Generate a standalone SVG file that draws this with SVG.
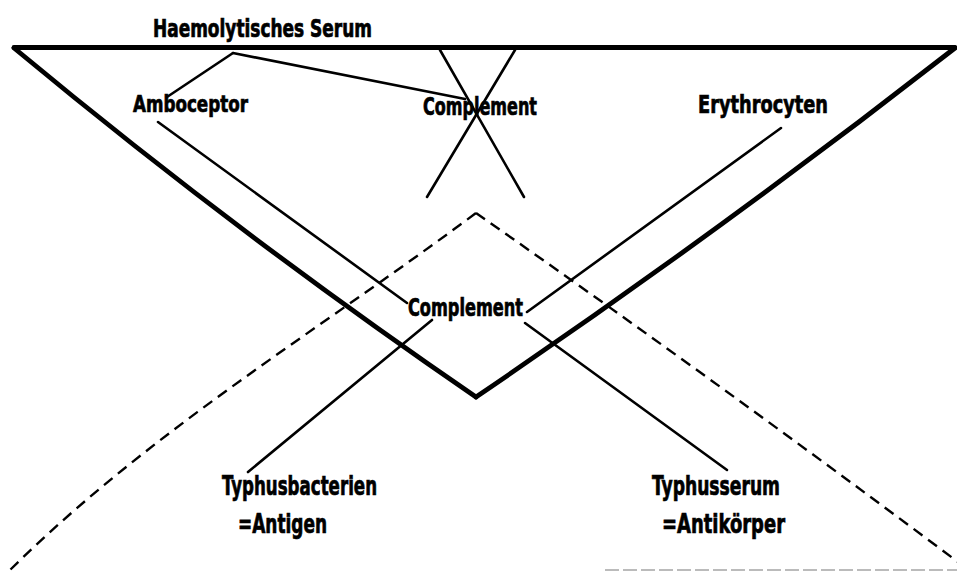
<svg xmlns="http://www.w3.org/2000/svg" width="957" height="571" viewBox="0 0 957 571">
<style>
.lbl{font-family:"Liberation Sans Narrow","DejaVu Sans Condensed","Liberation Sans",sans-serif;font-weight:bold;fill:#000;stroke:#000;stroke-width:0.7}
.thick{fill:none;stroke:#000;stroke-width:4.8;stroke-linecap:round;stroke-linejoin:round}
.thin{fill:none;stroke:#000;stroke-width:2.6;stroke-linecap:round}
.dash{fill:none;stroke:#000;stroke-width:2.4;stroke-dasharray:11 7}
</style>
<rect width="957" height="571" fill="#fff"/>
<g id="frame">
  <path class="thick" d="M14,47.5 L955,47.5"/>
  <path class="thick" d="M14,48 Q238,234 476,397"/>
  <path class="thick" d="M955,48 Q722,230 476,397"/>
  <path class="dash" d="M476,213 C315,333 150,431 8,572"/>
  <path class="dash" d="M476,213 Q712,378 958,562"/>
  <path d="M605,570 L957,570" fill="none" stroke="#bbb" stroke-width="2" stroke-dasharray="14 4"/>
</g>
<g id="connectors">
  <line class="thin" x1="233" y1="53" x2="167" y2="97"/>
  <line class="thin" x1="233" y1="53" x2="465" y2="99"/>
  <line class="thin" x1="440" y1="50" x2="524" y2="197"/>
  <line class="thin" x1="515" y1="50" x2="427" y2="197"/>
  <line class="thin" x1="158" y1="122" x2="407" y2="303"/>
  <line class="thin" x1="781" y1="128" x2="527" y2="312"/>
  <line class="thin" x1="432" y1="320" x2="248" y2="472"/>
  <line class="thin" x1="525" y1="323" x2="727" y2="470"/>
</g>
<g id="haemolytisches-serum"><text class="lbl" x="153" y="37" font-size="24" textLength="219" lengthAdjust="spacingAndGlyphs">Haemolytisches Serum</text></g>
<g id="amboceptor"><text class="lbl" x="133" y="112" font-size="23" textLength="115" lengthAdjust="spacingAndGlyphs">Amboceptor</text></g>
<g id="complement-top"><text class="lbl" x="423" y="115" font-size="24" textLength="114" lengthAdjust="spacingAndGlyphs">Complement</text></g>
<g id="erythrocyten"><text class="lbl" x="698" y="113" font-size="25" textLength="130" lengthAdjust="spacingAndGlyphs">Erythrocyten</text></g>
<g id="complement-mid"><text class="lbl" x="408" y="316" font-size="24" textLength="115" lengthAdjust="spacingAndGlyphs">Complement</text></g>
<g id="typhusbacterien">
  <text class="lbl" x="222" y="495" font-size="26" textLength="155" lengthAdjust="spacingAndGlyphs">Typhusbacterien</text>
  <text class="lbl" x="238" y="533" font-size="26" textLength="89" lengthAdjust="spacingAndGlyphs">=Antigen</text>
</g>
<g id="typhusserum">
  <text class="lbl" x="652" y="495" font-size="26" textLength="128" lengthAdjust="spacingAndGlyphs">Typhusserum</text>
  <text class="lbl" x="662" y="533" font-size="26" textLength="123" lengthAdjust="spacingAndGlyphs">=Antikörper</text>
</g>
</svg>
